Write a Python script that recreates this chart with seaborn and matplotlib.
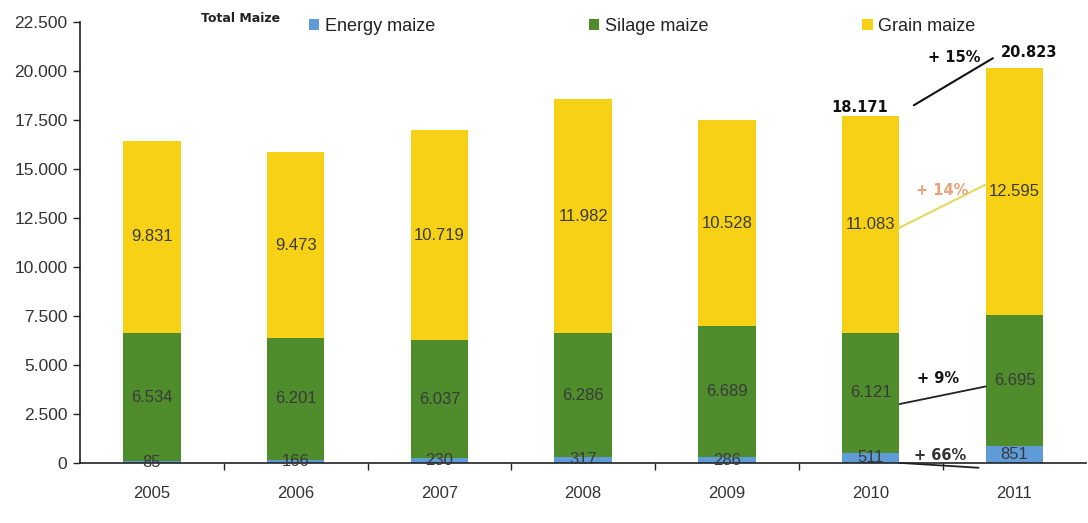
import matplotlib
matplotlib.use("Agg")
import matplotlib.pyplot as plt
import seaborn as sns
import numpy as np
import pandas as pd
from matplotlib.patches import Patch

years = ["2005", "2006", "2007", "2008", "2009", "2010", "2011"]
energy = [85, 166, 230, 317, 286, 511, 851]
silage = [6534, 6201, 6037, 6286, 6689, 6121, 6695]
grain = [9831, 9473, 10719, 11982, 10528, 11083, 12595]
total_labels = ["18.171", "20.823"]
change_labels = ["+ 15%", "+ 14%", "+ 9%", "+ 66%"]
y_ticks = [0, 2500, 5000, 7500, 10000, 12500, 15000, 17500, 20000, 22500]

c_energy = "#5f9bd6"
c_silage = "#4e8c2c"
c_grain = "#f6d116"

def fmt(v):
    return f"{v:,.0f}".replace(",", ".")

df = pd.DataFrame({"year": years, "energy": energy, "silage": silage, "grain": grain})
df["lower2"] = df["energy"] + df["silage"]
df["top"] = df["lower2"] + df["grain"]

sns.set_style("white")
plt.rcParams["font.family"] = ["Liberation Sans", "DejaVu Sans"]

fig = plt.figure(figsize=(10.88, 5.23), dpi=100)
ax = fig.add_axes([0.0735, 0.115, 0.925, 0.843])

bw = 0.4
for col, c in (("top", c_grain), ("lower2", c_silage), ("energy", c_energy)):
    sns.barplot(data=df, x="year", y=col, color=c, width=bw, ax=ax,
                saturation=1, linewidth=0, edgecolor="none")

txt_col = "#3a3a3a"
for i, row in df.iterrows():
    ax.text(i, row["energy"] / 2, fmt(row["energy"]), ha="center", va="center",
            fontsize=12, color=txt_col)
    ax.text(i, row["energy"] + row["silage"] / 2, fmt(row["silage"]), ha="center",
            va="center", fontsize=12, color=txt_col)
    ax.text(i, row["lower2"] + row["grain"] / 2, fmt(row["grain"]), ha="center",
            va="center", fontsize=12, color=txt_col)

ax.set_ylim(0, 22500)
ax.set_xlim(-0.5, 6.5)
ax.set_yticks(y_ticks)
ax.set_yticklabels([fmt(v) for v in y_ticks], fontsize=12.5, color="#333333")
ax.set_xlabel("")
ax.set_ylabel("")
ax.tick_params(axis="y", length=5, width=1, color="#222222", direction="out", left=True, pad=4)
ax.tick_params(axis="x", which="major", length=0, labelsize=12, labelcolor="#333333", pad=17)
ax.set_xticks(np.arange(0.5, 6.5, 1.0), minor=True)
ax.tick_params(axis="x", which="minor", length=5, width=1, color="#222222", direction="out", bottom=True)
sns.despine(ax=ax, top=True, right=True)
for s in ("left", "bottom"):
    ax.spines[s].set_color("#222222")
    ax.spines[s].set_linewidth(1.2)

# Change annotations between 2010 and 2011
x0, x1 = 5 + bw / 2, 6 - bw / 2
ax.text(4.92, 18150, total_labels[0], ha="center", va="center", fontsize=10.5,
        fontweight="bold", color="#111111", family="DejaVu Sans")
ax.text(6.1, 20950, total_labels[1], ha="center", va="center", fontsize=10.5,
        fontweight="bold", color="#111111", family="DejaVu Sans")
ax.plot([5.3, 5.85], [18250, 20650], color="#111111", lw=1.5)
ax.text(5.58, 20700, change_labels[0], ha="center", va="center", fontsize=10.5,
        fontweight="bold", color="#111111", family="DejaVu Sans")

ax.plot([x0, x1], [12000, 14200], color="#e4d95a", lw=1.5)
ax.text(5.5, 13900, change_labels[1], ha="center", va="center", fontsize=10.5,
        fontweight="bold", color="#e9a27a", family="DejaVu Sans")

ax.plot([x0, x1], [3000, 3900], color="#222222", lw=1.3)
ax.text(5.47, 4300, change_labels[2], ha="center", va="center", fontsize=10.5,
        fontweight="bold", color="#111111", family="DejaVu Sans")

ax.plot([x0, x1 - 0.05], [0, -250], color="#222222", lw=1.3, clip_on=False)
ax.text(5.48, 0, change_labels[3], ha="center", va="bottom", fontsize=10.5,
        fontweight="bold", color="#333333", family="DejaVu Sans")

# Title and legend row
fig.text(0.185, 0.965, "Total Maize", ha="left", va="center", fontsize=9,
         fontweight="bold", color="#222222", family="DejaVu Sans")
handles = [Patch(facecolor=c, edgecolor="none") for c in (c_energy, c_silage, c_grain)]
labels = ["Energy maize", "Silage maize", "Grain maize"]
leg = fig.legend(handles, labels, loc="center", bbox_to_anchor=(0.59, 0.95), ncol=3,
                 frameon=False, fontsize=13, handlelength=0.6, handleheight=0.6,
                 handletextpad=0.3, columnspacing=8.5)
for t in leg.get_texts():
    t.set_color("#222222")

fig.savefig("out.png", dpi=100)
